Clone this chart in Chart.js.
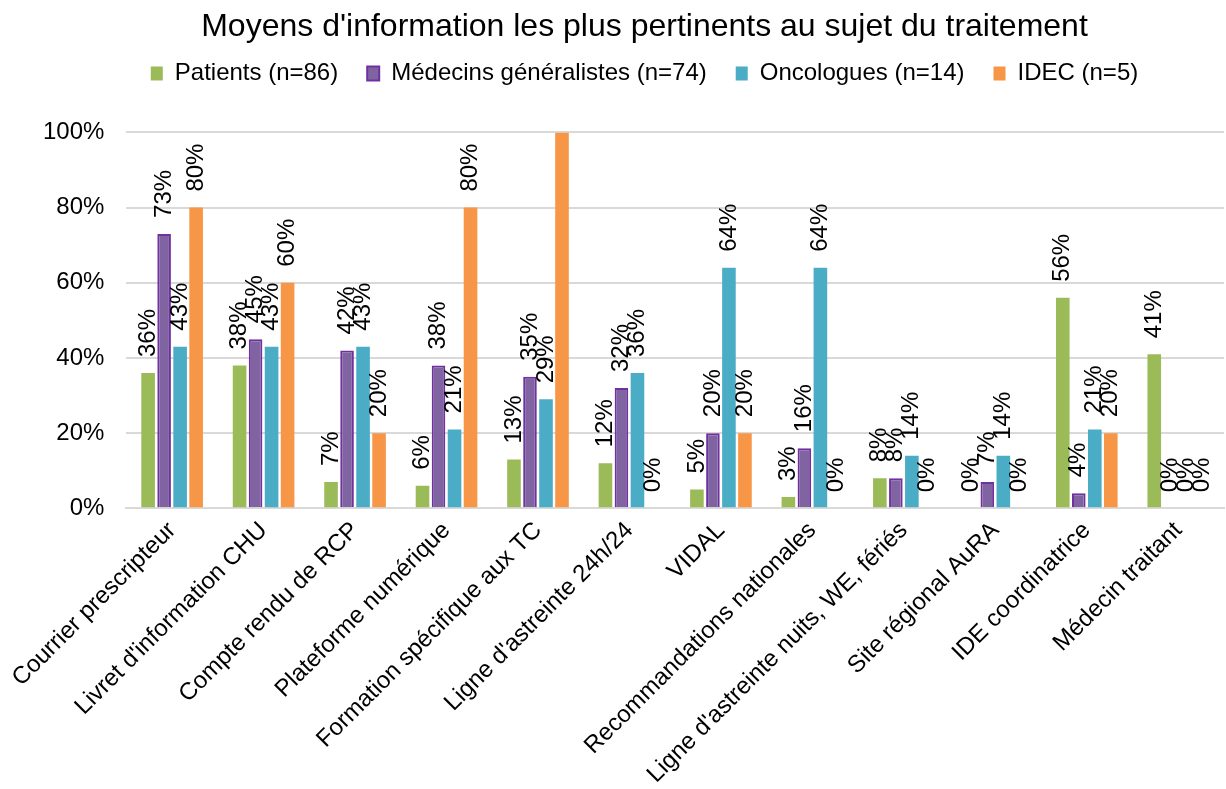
<!DOCTYPE html>
<html>
<head>
<meta charset="utf-8">
<script src="https://cdn.jsdelivr.net/npm/chart.js@4"></script>
<style>
  html, body { margin: 0; padding: 0; background: #fff; }
  #wrap { width: 1226px; height: 789px; }
</style>
</head>
<body>
<div id="wrap"><canvas id="chart"></canvas></div>
<script>
const categories = [
  'Courrier prescripteur', "Livret d'information CHU", 'Compte rendu de RCP',
  'Plateforme numérique', 'Formation spécifique aux TC', "Ligne d'astreinte 24h/24",
  'VIDAL', 'Recommandations nationales', "Ligne d'astreinte nuits, WE, fériés",
  'Site régional AuRA', 'IDE coordinatrice', 'Médecin traitant'
];
const seriesNames = ['Patients (n=86)', 'Médecins généralistes (n=74)', 'Oncologues (n=14)', 'IDEC (n=5)'];
const patients   = [36, 38, 7, 6, 13, 12, 5, 3, 8, 0, 56, 41];
const medecins   = [73, 45, 42, 38, 35, 32, 20, 16, 8, 7, 4, 0];
const oncologues = [43, 43, 43, 21, 29, 36, 64, 64, 14, 14, 21, 0];
const idec       = [80, 60, 20, 80, 100, 0, 20, 0, 0, 0, 20, 0];
const yTicks = [0, 20, 40, 60, 80, 100];

const FONT = 'Liberation Sans, Arial, sans-serif';

// étiquettes de valeur verticales au-dessus des barres
const valueLabels = {
  id: 'valueLabels',
  afterDatasetsDraw(chart) {
    const ctx = chart.ctx;
    ctx.save();
    ctx.font = '24px ' + FONT;
    ctx.fillStyle = '#000';
    ctx.textAlign = 'left';
    ctx.textBaseline = 'middle';
    const limit = chart.chartArea.top - 50;
    chart.data.datasets.forEach((ds, i) => {
      chart.getDatasetMeta(i).data.forEach((bar, j) => {
        const txt = ds.data[j] + '%';
        const start = bar.y - 16;
        if (start - ctx.measureText(txt).width < limit) return;
        ctx.save();
        ctx.translate(bar.x, start);
        ctx.rotate(-Math.PI / 2);
        ctx.fillText(txt, 0, 0);
        ctx.restore();
      });
    });
    ctx.restore();
  }
};

// espace entre la légende et la zone de tracé, titre et légende recentrés
const legendGap = {
  id: 'legendGap',
  beforeInit(chart) {
    const fit = chart.legend.fit;
    chart.legend.fit = function () {
      fit.bind(chart.legend)();
      this.height += 37;
    };
  },
  afterLayout(chart) {
    chart.titleBlock.left += 44;
    chart.legend.left += 44;
  }
};

new Chart(document.getElementById('chart'), {
  type: 'bar',
  data: {
    labels: categories,
    datasets: [
      { label: seriesNames[0], data: patients, backgroundColor: '#9bbb59', borderWidth: 0 },
      { label: seriesNames[1], data: medecins, backgroundColor: '#8064a2', borderColor: '#7030a0', borderWidth: 2 },
      { label: seriesNames[2], data: oncologues, backgroundColor: '#4bacc6', borderWidth: 0 },
      { label: seriesNames[3], data: idec, backgroundColor: '#f79646', borderWidth: 0 }
    ]
  },
  options: {
    responsive: true,
    maintainAspectRatio: false,
    animation: false,
    layout: { padding: { left: 21, right: 2, top: 0, bottom: 0 } },
    datasets: { bar: { categoryPercentage: 0.7, barPercentage: 0.85 } },
    plugins: {
      title: {
        display: true,
        text: "Moyens d'information les plus pertinents au sujet du traitement",
        color: '#000',
        font: { family: FONT, size: 32, weight: 'normal' },
        padding: { top: 8, bottom: -14 }
      },
      legend: {
        position: 'top',
        labels: {
          color: '#000',
          font: { family: FONT, size: 24 },
          boxWidth: 12,
          boxHeight: 14,
          padding: 29
        }
      },
      tooltip: { enabled: false }
    },
    scales: {
      x: {
        grid: { display: false },
        border: { color: '#d9d9d9', width: 2 },
        ticks: {
          color: '#000',
          font: { family: FONT, size: 24 },
          padding: 0,
          autoSkip: false,
          minRotation: 45,
          maxRotation: 45
        }
      },
      y: {
        min: 0,
        max: 100,
        afterBuildTicks(axis) { axis.ticks = yTicks.map(v => ({ value: v })); },
        grid: { color: '#d9d9d9', lineWidth: 2, drawTicks: false },
        border: { display: false },
        ticks: {
          color: '#000',
          font: { family: FONT, size: 24 },
          padding: 22,
          callback: v => v + '%'
        }
      }
    }
  },
  plugins: [valueLabels, legendGap]
});
</script>
</body>
</html>
